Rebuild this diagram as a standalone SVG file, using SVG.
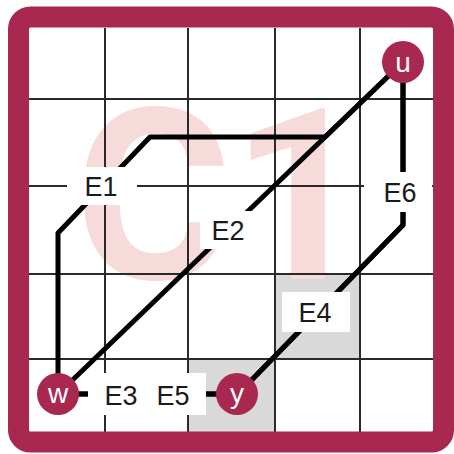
<svg xmlns="http://www.w3.org/2000/svg" width="454" height="454" viewBox="0 0 454 454">
  <style>
    .grid { stroke: #2a2a2a; stroke-width: 2; fill: none; }
    .edge { stroke: #000; stroke-width: 5; fill: none; stroke-linejoin: round; stroke-linecap: butt; }
    .lbg { fill: #fff; }
    .lbl { font-family: "Liberation Sans", Arial, sans-serif; font-size: 27px; fill: #1a1a1a; text-anchor: middle; }
    .wm { font-family: Roboto, "DejaVu Sans", sans-serif; font-weight: 700; font-size: 240px; fill: #f7dada; }
    .node circle { fill: #a8284f; }
    .node text { font-family: "Liberation Sans", Arial, sans-serif; font-size: 28px; fill: #fff; text-anchor: middle; }
  </style>
  <rect x="0" y="0" width="454" height="454" fill="#fff"/>
  <!-- shaded cells -->
  <rect x="188" y="359" width="87" height="75" fill="#d9d9d9"/>
  <rect x="275" y="274" width="85" height="85" fill="#d9d9d9"/>
  <!-- watermark -->
  <text class="wm" x="74" y="279">C1</text>
  <!-- grid -->
  <g class="grid">
    <line x1="105" y1="28" x2="105" y2="432"/>
    <line x1="188" y1="28" x2="188" y2="432"/>
    <line x1="275" y1="28" x2="275" y2="432"/>
    <line x1="360" y1="28" x2="360" y2="432"/>
    <line x1="29" y1="99" x2="434" y2="99"/>
    <line x1="29" y1="186" x2="434" y2="186"/>
    <line x1="29" y1="274" x2="434" y2="274"/>
    <line x1="29" y1="359" x2="434" y2="359"/>
  </g>
  <!-- frame -->
  <rect x="18.5" y="17" width="425" height="425" rx="12" fill="none" stroke="#a8284f" stroke-width="21"/>
  <!-- connectors -->
  <g id="connectors">
    <path id="E1" class="edge" d="M58,394 L58,233 L150,137 L325,137 L403,62"/>
    <path id="E2" class="edge" d="M58,394 L403,62"/>
    <path id="E3" class="edge" d="M58,394 L237,394"/>
    <path id="E5" class="edge" d="M58,394 L237,394"/>
    <path id="E6" class="edge" d="M403,62 L403,225 L237,395"/>
    <path id="E4" class="edge" d="M403,62 L403,225 L237,395"/>
    <g id="edge-labels">
      <rect class="lbg" x="67" y="167" width="70" height="38"/>
      <text class="lbl" x="101" y="196">E1</text>
      <rect class="lbg" x="200" y="211" width="58" height="38"/>
      <text class="lbl" x="228" y="240">E2</text>
      <rect class="lbg" x="88" y="373" width="118" height="42"/>
      <text class="lbl" x="121" y="405">E3</text>
      <text class="lbl" x="173" y="405">E5</text>
      <rect class="lbg" x="364" y="172" width="68" height="40"/>
      <text class="lbl" x="400" y="202">E6</text>
      <rect class="lbg" x="282" y="292" width="68" height="40"/>
      <text class="lbl" x="315" y="322">E4</text>
    </g>
  </g>
  <!-- nodes -->
  <g id="u" class="node"><circle cx="403" cy="62" r="21"/><text x="403" y="72">u</text></g>
  <g id="w" class="node"><circle cx="58" cy="394" r="21"/><text x="58" y="403">w</text></g>
  <g id="y" class="node"><circle cx="237" cy="394" r="21"/><text x="237" y="403">y</text></g>
</svg>
